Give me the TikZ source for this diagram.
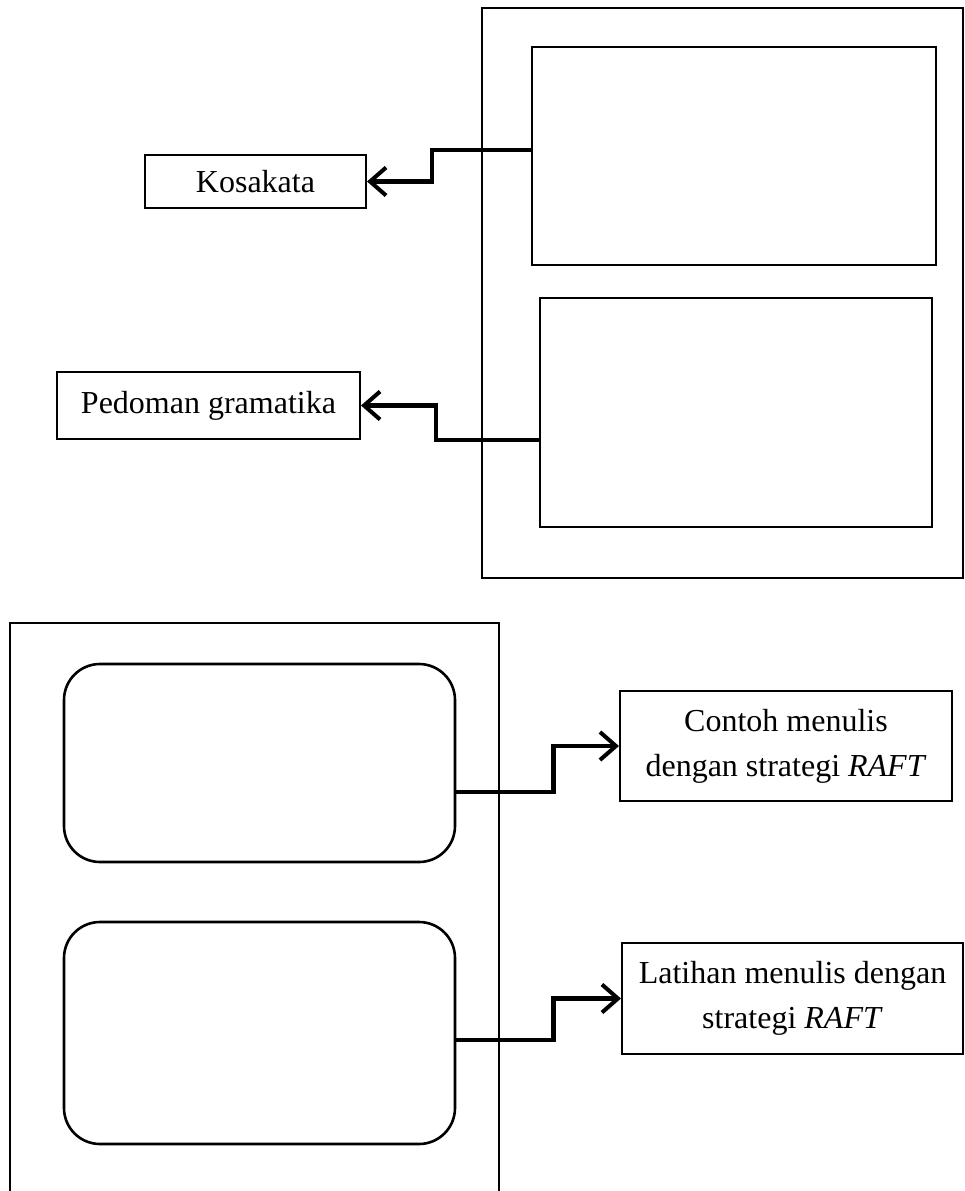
\documentclass[tikz,border=0pt]{standalone}
\usepackage{fontspec}
\setmainfont{Liberation Serif}
\usetikzlibrary{arrows.meta}

\begin{document}
\begin{tikzpicture}
[x=1pt, y=-1pt, every node/.style={inner sep=0pt, font=\fontsize{32}{45}\selectfont},
 frame/.style={rectangle, draw=black, line width=2.6pt},
 panel/.style={rectangle, draw=black, line width=2pt},
 roundpanel/.style={rectangle, rounded corners=36pt, draw=black, line width=2.6pt},
 label/.style={rectangle, draw=black, line width=2pt, align=center},
 link/.style={line width=4.5pt, -{Straight Barb[length=16pt, width=28pt, line width=4pt]}}]
\useasboundingbox (0,0) rectangle (965,1191);
% top group
\node (outerA) [frame, minimum width=481pt, minimum height=570pt] at (722.5, 293) {};
\node (inA) [panel, minimum width=404pt, minimum height=218pt] at (734, 156) {};
\node (inB) [panel, minimum width=392pt, minimum height=229pt] at (736, 412.5) {};
\node (kosakata) [label, minimum width=221pt, minimum height=53pt] at (255.5, 181.5) {Kosakata};
\node (pedoman) [label, minimum width=303pt, minimum height=67pt] at (208.5, 405.5) {Pedoman gramatika};
% bottom group
\node (outerB) [frame, minimum width=489pt, minimum height=572pt] at (254.5, 909) {};
\node (rnA) [roundpanel, minimum width=391pt, minimum height=198pt] at (259.5, 763) {};
\node (rnB) [roundpanel, minimum width=391pt, minimum height=222pt] at (259.5, 1033) {};
\node (contoh) [label, minimum width=332pt, minimum height=110pt] at (786, 746) {Contoh menulis\\dengan strategi \textit{RAFT}};
\node (latihan) [label, minimum width=341pt, minimum height=111pt] at (792.5, 998.5) {Latihan menulis dengan\\strategi \textit{RAFT}};
% connectors
\draw [link] ([yshift=6pt]inA.west) -- ++(-99,0) |- (kosakata.east);
\draw [link] ([yshift=-27.5pt]inB.west) -- ++(-103,0) |- (pedoman.east);
\draw [link] ([yshift=-29pt]rnA.east) -- ++(97,0) |- (contoh.west);
\draw [link] ([yshift=-7pt]rnB.east) -- ++(97,0) |- (latihan.west);
\end{tikzpicture}
\end{document}
